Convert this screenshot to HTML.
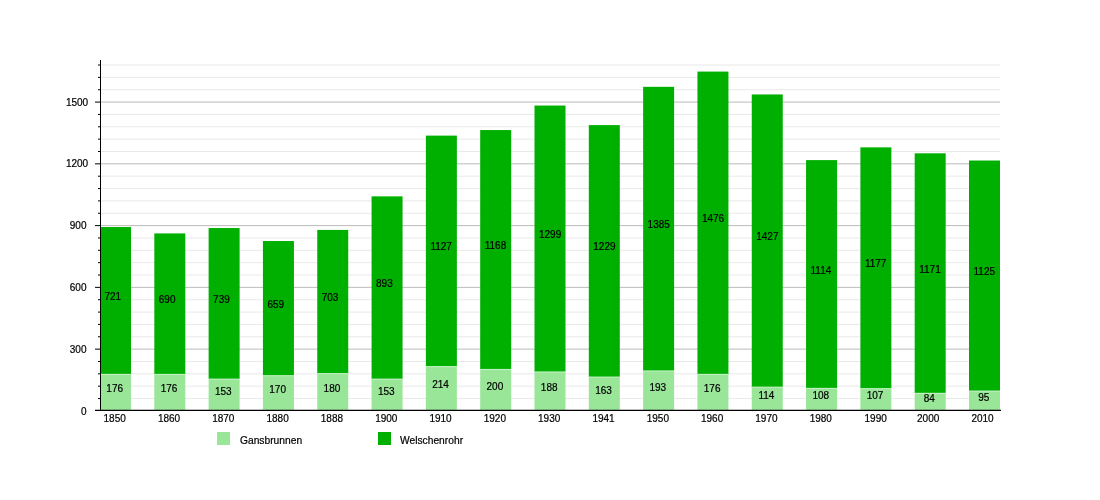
<!DOCTYPE html>
<html><head><meta charset="utf-8"><title>Chart</title><style>html,body{margin:0;padding:0;background:#fff}svg{display:block}text{stroke:#000;stroke-width:.2px}</style></head><body>
<svg width="1100" height="500" viewBox="0 0 1100 500" font-family="'Liberation Sans', Arial, sans-serif" font-size="10" fill="#000">
<rect width="1100" height="500" fill="#fff"/>
<line x1="101" x2="1000" y1="398.55" y2="398.55" stroke="#e9e9e9" stroke-width="1"/>
<line x1="101" x2="1000" y1="386.19" y2="386.19" stroke="#e9e9e9" stroke-width="1"/>
<line x1="101" x2="1000" y1="373.84" y2="373.84" stroke="#e9e9e9" stroke-width="1"/>
<line x1="101" x2="1000" y1="361.49" y2="361.49" stroke="#e9e9e9" stroke-width="1"/>
<line x1="101" x2="1000" y1="349.14" y2="349.14" stroke="#bbbbbb" stroke-width="1"/>
<line x1="101" x2="1000" y1="336.78" y2="336.78" stroke="#e9e9e9" stroke-width="1"/>
<line x1="101" x2="1000" y1="324.43" y2="324.43" stroke="#e9e9e9" stroke-width="1"/>
<line x1="101" x2="1000" y1="312.08" y2="312.08" stroke="#e9e9e9" stroke-width="1"/>
<line x1="101" x2="1000" y1="299.72" y2="299.72" stroke="#e9e9e9" stroke-width="1"/>
<line x1="101" x2="1000" y1="287.37" y2="287.37" stroke="#bbbbbb" stroke-width="1"/>
<line x1="101" x2="1000" y1="275.02" y2="275.02" stroke="#e9e9e9" stroke-width="1"/>
<line x1="101" x2="1000" y1="262.66" y2="262.66" stroke="#e9e9e9" stroke-width="1"/>
<line x1="101" x2="1000" y1="250.31" y2="250.31" stroke="#e9e9e9" stroke-width="1"/>
<line x1="101" x2="1000" y1="237.96" y2="237.96" stroke="#e9e9e9" stroke-width="1"/>
<line x1="101" x2="1000" y1="225.61" y2="225.61" stroke="#bbbbbb" stroke-width="1"/>
<line x1="101" x2="1000" y1="213.25" y2="213.25" stroke="#e9e9e9" stroke-width="1"/>
<line x1="101" x2="1000" y1="200.90" y2="200.90" stroke="#e9e9e9" stroke-width="1"/>
<line x1="101" x2="1000" y1="188.55" y2="188.55" stroke="#e9e9e9" stroke-width="1"/>
<line x1="101" x2="1000" y1="176.19" y2="176.19" stroke="#e9e9e9" stroke-width="1"/>
<line x1="101" x2="1000" y1="163.84" y2="163.84" stroke="#bbbbbb" stroke-width="1"/>
<line x1="101" x2="1000" y1="151.49" y2="151.49" stroke="#e9e9e9" stroke-width="1"/>
<line x1="101" x2="1000" y1="139.14" y2="139.14" stroke="#e9e9e9" stroke-width="1"/>
<line x1="101" x2="1000" y1="126.78" y2="126.78" stroke="#e9e9e9" stroke-width="1"/>
<line x1="101" x2="1000" y1="114.43" y2="114.43" stroke="#e9e9e9" stroke-width="1"/>
<line x1="101" x2="1000" y1="102.08" y2="102.08" stroke="#bbbbbb" stroke-width="1"/>
<line x1="101" x2="1000" y1="89.72" y2="89.72" stroke="#e9e9e9" stroke-width="1"/>
<line x1="101" x2="1000" y1="77.37" y2="77.37" stroke="#e9e9e9" stroke-width="1"/>
<line x1="101" x2="1000" y1="65.02" y2="65.02" stroke="#e9e9e9" stroke-width="1"/>
<rect x="100.00" y="373.66" width="31" height="37.24" fill="#99e699"/>
<rect x="100.00" y="373.86" width="31" height="1.1" fill="#c4f1c4"/>
<rect x="100.00" y="227.02" width="31" height="146.84" fill="#00b000"/>
<text x="114.70" y="422.2" text-anchor="middle">1850</text>
<text x="114.70" y="392" text-anchor="middle">176</text>
<text x="104.50" y="300.04">721</text>
<rect x="154.31" y="373.66" width="31" height="37.24" fill="#99e699"/>
<rect x="154.31" y="373.86" width="31" height="1.1" fill="#c4f1c4"/>
<rect x="154.31" y="233.41" width="31" height="140.46" fill="#00b000"/>
<text x="169.01" y="422.2" text-anchor="middle">1860</text>
<text x="169.01" y="392" text-anchor="middle">176</text>
<text x="158.81" y="303.24">690</text>
<rect x="208.62" y="378.40" width="31" height="32.50" fill="#99e699"/>
<rect x="208.62" y="378.60" width="31" height="1.1" fill="#c4f1c4"/>
<rect x="208.62" y="228.05" width="31" height="150.55" fill="#00b000"/>
<text x="223.32" y="422.2" text-anchor="middle">1870</text>
<text x="223.32" y="395" text-anchor="middle">153</text>
<text x="213.12" y="302.93">739</text>
<rect x="262.94" y="374.90" width="31" height="36.00" fill="#99e699"/>
<rect x="262.94" y="375.10" width="31" height="1.1" fill="#c4f1c4"/>
<rect x="262.94" y="241.02" width="31" height="134.08" fill="#00b000"/>
<text x="277.64" y="422.2" text-anchor="middle">1880</text>
<text x="277.64" y="393" text-anchor="middle">170</text>
<text x="267.44" y="307.66">659</text>
<rect x="317.25" y="372.84" width="31" height="38.06" fill="#99e699"/>
<rect x="317.25" y="373.04" width="31" height="1.1" fill="#c4f1c4"/>
<rect x="317.25" y="229.91" width="31" height="143.14" fill="#00b000"/>
<text x="331.95" y="422.2" text-anchor="middle">1888</text>
<text x="331.95" y="392" text-anchor="middle">180</text>
<text x="321.75" y="301.07">703</text>
<rect x="371.56" y="378.40" width="31" height="32.50" fill="#99e699"/>
<rect x="371.56" y="378.60" width="31" height="1.1" fill="#c4f1c4"/>
<rect x="371.56" y="196.35" width="31" height="182.25" fill="#00b000"/>
<text x="386.26" y="422.2" text-anchor="middle">1900</text>
<text x="386.26" y="395" text-anchor="middle">153</text>
<text x="376.06" y="287.07">893</text>
<rect x="425.88" y="365.84" width="31" height="45.06" fill="#99e699"/>
<rect x="425.88" y="366.04" width="31" height="1.1" fill="#c4f1c4"/>
<rect x="425.88" y="135.61" width="31" height="230.43" fill="#00b000"/>
<text x="440.57" y="422.2" text-anchor="middle">1910</text>
<text x="440.57" y="388" text-anchor="middle">214</text>
<text x="430.38" y="250.43">1127</text>
<rect x="480.19" y="368.72" width="31" height="42.18" fill="#99e699"/>
<rect x="480.19" y="368.92" width="31" height="1.1" fill="#c4f1c4"/>
<rect x="480.19" y="130.05" width="31" height="238.87" fill="#00b000"/>
<text x="494.89" y="422.2" text-anchor="middle">1920</text>
<text x="494.89" y="390" text-anchor="middle">200</text>
<text x="484.69" y="249.09">1168</text>
<rect x="534.50" y="371.19" width="31" height="39.71" fill="#99e699"/>
<rect x="534.50" y="371.39" width="31" height="1.1" fill="#c4f1c4"/>
<rect x="534.50" y="105.55" width="31" height="265.84" fill="#00b000"/>
<text x="549.20" y="422.2" text-anchor="middle">1930</text>
<text x="549.20" y="391" text-anchor="middle">188</text>
<text x="539.00" y="238.07">1299</text>
<rect x="588.81" y="376.34" width="31" height="34.56" fill="#99e699"/>
<rect x="588.81" y="376.54" width="31" height="1.1" fill="#c4f1c4"/>
<rect x="588.81" y="125.11" width="31" height="251.43" fill="#00b000"/>
<text x="603.51" y="422.2" text-anchor="middle">1941</text>
<text x="603.51" y="394" text-anchor="middle">163</text>
<text x="593.31" y="250.43">1229</text>
<rect x="643.12" y="370.16" width="31" height="40.74" fill="#99e699"/>
<rect x="643.12" y="370.36" width="31" height="1.1" fill="#c4f1c4"/>
<rect x="643.12" y="86.82" width="31" height="283.55" fill="#00b000"/>
<text x="657.83" y="422.2" text-anchor="middle">1950</text>
<text x="657.83" y="391" text-anchor="middle">193</text>
<text x="647.62" y="228.19">1385</text>
<rect x="697.44" y="373.66" width="31" height="37.24" fill="#99e699"/>
<rect x="697.44" y="373.86" width="31" height="1.1" fill="#c4f1c4"/>
<rect x="697.44" y="71.58" width="31" height="302.28" fill="#00b000"/>
<text x="712.14" y="422.2" text-anchor="middle">1960</text>
<text x="712.14" y="392" text-anchor="middle">176</text>
<text x="701.94" y="222.32">1476</text>
<rect x="751.75" y="386.43" width="31" height="24.47" fill="#99e699"/>
<rect x="751.75" y="386.63" width="31" height="1.1" fill="#c4f1c4"/>
<rect x="751.75" y="94.44" width="31" height="292.19" fill="#00b000"/>
<text x="766.45" y="422.2" text-anchor="middle">1970</text>
<text x="766.45" y="399" text-anchor="middle">114</text>
<text x="756.25" y="240.13">1427</text>
<rect x="806.06" y="387.66" width="31" height="23.24" fill="#99e699"/>
<rect x="806.06" y="387.86" width="31" height="1.1" fill="#c4f1c4"/>
<rect x="806.06" y="160.11" width="31" height="227.75" fill="#00b000"/>
<text x="820.76" y="422.2" text-anchor="middle">1980</text>
<text x="820.76" y="399" text-anchor="middle">108</text>
<text x="810.56" y="273.59">1114</text>
<rect x="860.38" y="387.87" width="31" height="23.03" fill="#99e699"/>
<rect x="860.38" y="388.07" width="31" height="1.1" fill="#c4f1c4"/>
<rect x="860.38" y="147.35" width="31" height="240.72" fill="#00b000"/>
<text x="875.68" y="422.2" text-anchor="middle">1990</text>
<text x="875.08" y="399" text-anchor="middle">107</text>
<text x="864.88" y="267.31">1177</text>
<rect x="914.69" y="392.61" width="31" height="18.29" fill="#99e699"/>
<rect x="914.69" y="392.81" width="31" height="1.1" fill="#c4f1c4"/>
<rect x="914.69" y="153.32" width="31" height="239.49" fill="#00b000"/>
<text x="928.19" y="422.2" text-anchor="middle">2000</text>
<text x="929.39" y="402" text-anchor="middle">84</text>
<text x="919.19" y="272.66">1171</text>
<rect x="969.00" y="390.34" width="31" height="20.56" fill="#99e699"/>
<rect x="969.00" y="390.54" width="31" height="1.1" fill="#c4f1c4"/>
<rect x="969.00" y="160.52" width="31" height="230.02" fill="#00b000"/>
<text x="982.50" y="422.2" text-anchor="middle">2010</text>
<text x="983.70" y="401" text-anchor="middle">95</text>
<text x="973.50" y="275.13">1125</text>
<line x1="100.5" x2="100.5" y1="60" y2="410.9" stroke="#000" stroke-width="1"/>
<line x1="95" x2="1001" y1="410.4" y2="410.4" stroke="#000" stroke-width="1.1"/>
<line x1="98" x2="100" y1="398.55" y2="398.55" stroke="#000" stroke-width="1"/>
<line x1="98" x2="100" y1="386.19" y2="386.19" stroke="#000" stroke-width="1"/>
<line x1="98" x2="100" y1="373.84" y2="373.84" stroke="#000" stroke-width="1"/>
<line x1="98" x2="100" y1="361.49" y2="361.49" stroke="#000" stroke-width="1"/>
<line x1="95" x2="100" y1="349.14" y2="349.14" stroke="#000" stroke-width="1"/>
<text x="86.5" y="352.74" text-anchor="end">300</text>
<line x1="98" x2="100" y1="336.78" y2="336.78" stroke="#000" stroke-width="1"/>
<line x1="98" x2="100" y1="324.43" y2="324.43" stroke="#000" stroke-width="1"/>
<line x1="98" x2="100" y1="312.08" y2="312.08" stroke="#000" stroke-width="1"/>
<line x1="98" x2="100" y1="299.72" y2="299.72" stroke="#000" stroke-width="1"/>
<line x1="95" x2="100" y1="287.37" y2="287.37" stroke="#000" stroke-width="1"/>
<text x="86.5" y="290.97" text-anchor="end">600</text>
<line x1="98" x2="100" y1="275.02" y2="275.02" stroke="#000" stroke-width="1"/>
<line x1="98" x2="100" y1="262.66" y2="262.66" stroke="#000" stroke-width="1"/>
<line x1="98" x2="100" y1="250.31" y2="250.31" stroke="#000" stroke-width="1"/>
<line x1="98" x2="100" y1="237.96" y2="237.96" stroke="#000" stroke-width="1"/>
<line x1="95" x2="100" y1="225.61" y2="225.61" stroke="#000" stroke-width="1"/>
<text x="86.5" y="229.21" text-anchor="end">900</text>
<line x1="98" x2="100" y1="213.25" y2="213.25" stroke="#000" stroke-width="1"/>
<line x1="98" x2="100" y1="200.90" y2="200.90" stroke="#000" stroke-width="1"/>
<line x1="98" x2="100" y1="188.55" y2="188.55" stroke="#000" stroke-width="1"/>
<line x1="98" x2="100" y1="176.19" y2="176.19" stroke="#000" stroke-width="1"/>
<line x1="95" x2="100" y1="163.84" y2="163.84" stroke="#000" stroke-width="1"/>
<text x="88.2" y="167.44" text-anchor="end">1200</text>
<line x1="98" x2="100" y1="151.49" y2="151.49" stroke="#000" stroke-width="1"/>
<line x1="98" x2="100" y1="139.14" y2="139.14" stroke="#000" stroke-width="1"/>
<line x1="98" x2="100" y1="126.78" y2="126.78" stroke="#000" stroke-width="1"/>
<line x1="98" x2="100" y1="114.43" y2="114.43" stroke="#000" stroke-width="1"/>
<line x1="95" x2="100" y1="102.08" y2="102.08" stroke="#000" stroke-width="1"/>
<text x="88.2" y="105.68" text-anchor="end">1500</text>
<line x1="98" x2="100" y1="89.72" y2="89.72" stroke="#000" stroke-width="1"/>
<line x1="98" x2="100" y1="77.37" y2="77.37" stroke="#000" stroke-width="1"/>
<line x1="98" x2="100" y1="65.02" y2="65.02" stroke="#000" stroke-width="1"/>
<text x="86.5" y="414.50" text-anchor="end">0</text>
<rect x="217" y="432" width="13" height="13" fill="#99e699"/>
<text x="240" y="444.2" font-size="10.25">Gansbrunnen</text>
<rect x="378" y="432" width="13" height="13" fill="#00b000"/>
<text x="400" y="444.2" font-size="10.25">Welschenrohr</text>
</svg>
</body></html>
